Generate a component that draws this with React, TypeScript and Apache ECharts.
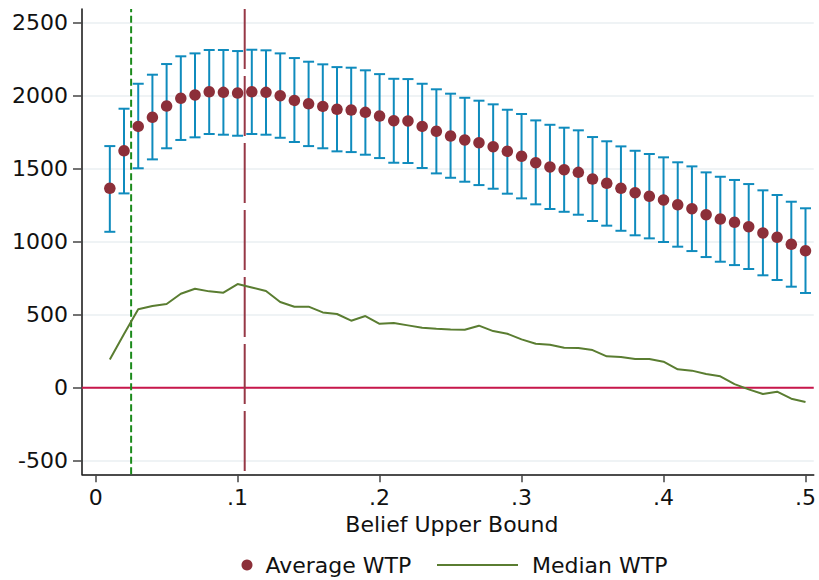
import React, { useEffect, useRef } from "react";
import * as echarts from "echarts";

const beliefUpperBound = [
  0.01, 0.02, 0.03, 0.04, 0.05, 0.06, 0.07, 0.08, 0.09, 0.1,
  0.11, 0.12, 0.13, 0.14, 0.15, 0.16, 0.17, 0.18, 0.19, 0.2,
  0.21, 0.22, 0.23, 0.24, 0.25, 0.26, 0.27, 0.28, 0.29, 0.3,
  0.31, 0.32, 0.33, 0.34, 0.35, 0.36, 0.37, 0.38, 0.39, 0.4,
  0.41, 0.42, 0.43, 0.44, 0.45, 0.46, 0.47, 0.48, 0.49, 0.5,
];

const averageWTP = [
  1366, 1623, 1790, 1852, 1929, 1982, 2005, 2027, 2023, 2018,
  2027, 2023, 2000, 1968, 1945, 1927, 1907, 1902, 1886, 1861,
  1829, 1827, 1790, 1756, 1724, 1697, 1678, 1651, 1619, 1585,
  1541, 1512, 1493, 1475, 1429, 1400, 1366, 1336, 1311, 1286,
  1253, 1226, 1185, 1155, 1133, 1103, 1060, 1030, 982, 938,
];

const upperCI = [
  1655, 1911, 2082, 2144, 2217, 2270, 2290, 2313, 2313, 2306,
  2315, 2311, 2290, 2258, 2233, 2215, 2196, 2192, 2174, 2148,
  2116, 2114, 2082, 2044, 2014, 1986, 1966, 1941, 1904, 1875,
  1831, 1801, 1781, 1763, 1717, 1688, 1653, 1623, 1601, 1578,
  1544, 1516, 1475, 1445, 1423, 1395, 1352, 1320, 1274, 1229,
];

const lowerCI = [
  1068, 1331, 1503, 1564, 1640, 1697, 1715, 1738, 1733, 1726,
  1738, 1733, 1712, 1683, 1655, 1640, 1619, 1614, 1596, 1573,
  1541, 1539, 1505, 1468, 1438, 1411, 1388, 1363, 1329, 1297,
  1256, 1224, 1205, 1185, 1142, 1110, 1075, 1044, 1023, 998,
  966, 936, 895, 863, 840, 813, 770, 738, 692, 649,
];

const medianWTP = [
  194, 368, 537, 560, 573, 644, 678, 660, 651, 710,
  687, 662, 587, 555, 555, 516, 505, 459, 491, 438,
  443, 427, 411, 404, 398, 397, 425, 388, 370, 331,
  301, 295, 274, 272, 258, 215, 210, 197, 197, 178,
  126, 117, 94, 78, 25, -11, -43, -27, -75, -98,
];

const xTicks = [0, 0.1, 0.2, 0.3, 0.4, 0.5];
const yTicks = [-500, 0, 500, 1000, 1500, 2000, 2500];
const greenLineX = 0.025;
const maroonLineX = 0.105;

const X_MIN = -0.0096;
const X_MAX = 0.5058;
const Y_MIN = -593;
const Y_MAX = 2594;

const FONT = "DejaVu Sans";
const FS = 22;
const DOT = "#8c2f39";
const BAR = "#0f8bbd";
const MED = "#5a7d31";

export default function App() {
  const ref = useRef<HTMLDivElement>(null);
  useEffect(() => {
    if (!ref.current) return;
    const chart = echarts.init(ref.current, null, { renderer: "svg" });
    const errData = beliefUpperBound.map((x, i) => [x, lowerCI[i], upperCI[i]]);
    const dotData = beliefUpperBound.map((x, i) => [x, averageWTP[i]]);
    const medData = beliefUpperBound.map((x, i) => [x, medianWTP[i]]);
    const fmtX = (v: number) => (v === 0 ? "0" : String(v).replace(/^0\./, "."));
    const refLine = (name: string, data: number[][], color: string, type: any, z: number) => ({
      name,
      type: "line",
      data,
      symbol: "none",
      silent: true,
      z,
      lineStyle: { color, width: 2, type },
      itemStyle: { color },
    });
    chart.setOption({
      animation: false,
      textStyle: { fontFamily: FONT },
      grid: { left: 82, right: 0, top: 9, bottom: 105.7, containLabel: false },
      xAxis: {
        type: "value",
        min: X_MIN,
        max: X_MAX,
        name: "Belief Upper Bound",
        nameLocation: "middle",
        nameGap: 25,
        nameTextStyle: { fontSize: FS, color: "#111", fontFamily: FONT, padding: [0, 0, 0, 8] },
        axisLine: { onZero: false, lineStyle: { color: "#111", width: 1.5 } },
        axisTick: { show: true, customValues: xTicks, length: 8, lineStyle: { color: "#444", width: 1.5 } },
        axisLabel: { customValues: xTicks, formatter: fmtX, fontSize: FS, color: "#111", margin: 12, fontFamily: FONT },
        splitLine: { show: false },
      },
      yAxis: {
        type: "value",
        min: Y_MIN,
        max: Y_MAX,
        axisLine: { show: true, onZero: false, lineStyle: { color: "#111", width: 1.5 } },
        axisTick: { show: true, customValues: yTicks, length: 9, lineStyle: { color: "#444", width: 1.5 } },
        axisLabel: {
          customValues: yTicks,
          formatter: (v: number) => String(v),
          fontSize: FS,
          color: "#111",
          margin: 14,
          fontFamily: FONT,
        },
        splitLine: { show: true, lineStyle: { color: "#eaeff2", width: 1.5 } },
      },
      legend: [
        {
          data: [{ name: "Average WTP", icon: "circle" }],
          left: 236.5,
          top: 549,
          itemWidth: 11,
          itemHeight: 11,
          textStyle: { fontSize: FS, color: "#111", fontFamily: FONT, padding: [0, 0, 0, 8] },
        },
        {
          data: [{ name: "Median WTP", icon: "rect" }],
          left: 432,
          top: 549,
          itemWidth: 81,
          itemHeight: 2,
          textStyle: { fontSize: FS, color: "#111", fontFamily: FONT, padding: [0, 0, 0, 9] },
        },
      ],
      series: [
        refLine("zeroLine", [[X_MIN, 0], [X_MAX, 0]], "#c8174b", "solid", 1),
        refLine("greenLine", [[greenLineX, Y_MIN], [greenLineX, Y_MAX]], "#1b8a1b", [7, 3.5], 1),
        refLine("maroonLine", [[maroonLineX, Y_MAX], [maroonLineX, Y_MIN]], "#963846", [60, 7], 1),
        {
          name: "Median WTP",
          type: "line",
          data: medData,
          symbol: "none",
          z: 2,
          lineStyle: { color: MED, width: 2 },
          itemStyle: { color: MED },
        },
        {
          name: "CI",
          type: "custom",
          data: errData,
          z: 3,
          encode: { x: 0, y: [1, 2] },
          renderItem: (params: any, api: any) => {
            const x = api.value(0);
            const lo = api.coord([x, api.value(1)]);
            const hi = api.coord([x, api.value(2)]);
            const hw = 5.5;
            const style = { stroke: BAR, lineWidth: 2 };
            return {
              type: "group",
              children: [
                { type: "line", shape: { x1: lo[0], y1: lo[1], x2: hi[0], y2: hi[1] }, style },
                { type: "line", shape: { x1: lo[0] - hw, y1: lo[1], x2: lo[0] + hw, y2: lo[1] }, style },
                { type: "line", shape: { x1: hi[0] - hw, y1: hi[1], x2: hi[0] + hw, y2: hi[1] }, style },
              ],
            };
          },
        },
        {
          name: "Average WTP",
          type: "scatter",
          data: dotData,
          symbol: "circle",
          symbolSize: 11.5,
          z: 4,
          itemStyle: { color: DOT, opacity: 1 },
        },
      ],
    });
    return () => chart.dispose();
  }, []);
  return (
    <div
      ref={ref}
      style={{ position: "fixed", left: 0, top: 0, width: 819, height: 580, background: "#fff" }}
    />
  );
}
